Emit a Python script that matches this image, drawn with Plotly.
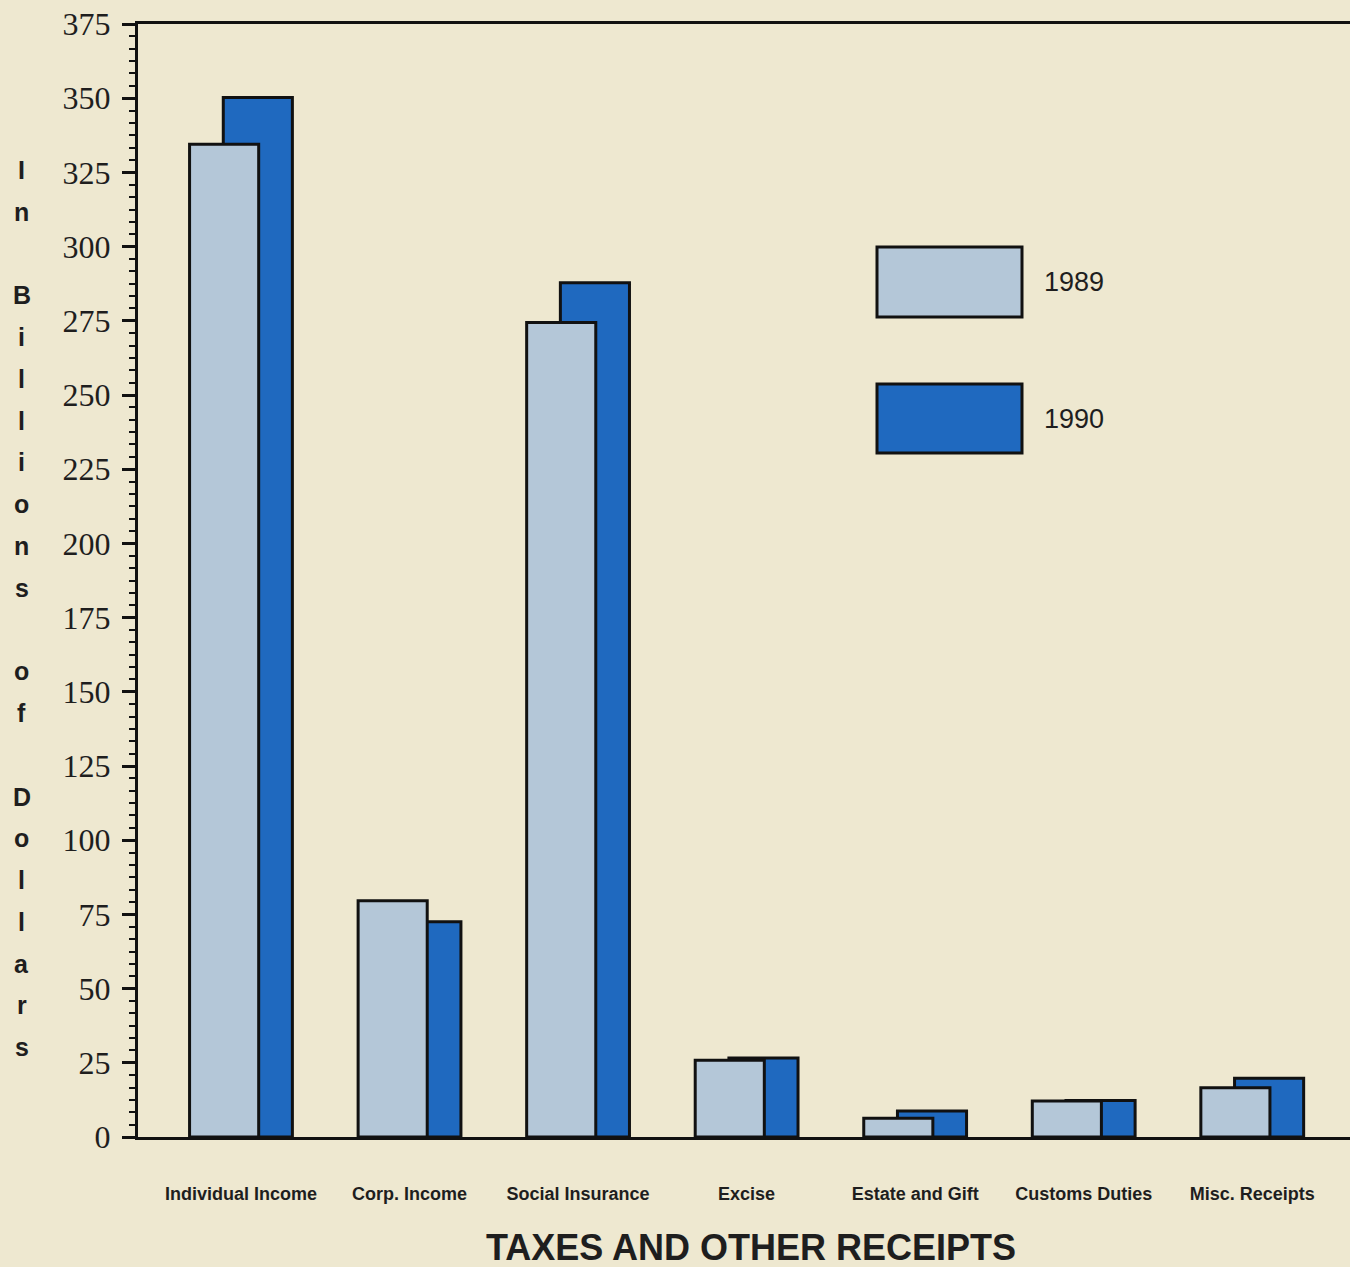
import plotly.graph_objects as go

categories = ["Individual Income", "Corp. Income", "Social Insurance", "Excise",
              "Estate and Gift", "Customs Duties", "Misc. Receipts"]
values_1989 = [334.5, 79.6, 274.4, 25.9, 6.3, 12.1, 16.6]
values_1990 = [350.2, 72.5, 287.8, 26.6, 8.8, 12.3, 19.8]
series_names = ["1989", "1990"]
y_ticks = list(range(0, 376, 25))
y_title = "In Billions of Dollars"
x_title = "TAXES AND OTHER RECEIPTS"

BG = "#eee8d0"
C89 = "#b4c7d8"
C90 = "#1f69bf"
INK = "#1e1e1e"

W, H = 1350, 1267
L, R, T, B = 138, 0, 24, 130
PW, PH = W - L - R, H - T - B

x_idx = list(range(len(categories)))

fig = go.Figure()
# 1990 drawn first (behind), 1989 in front
fig.add_trace(go.Bar(x=x_idx, y=values_1990, name=series_names[1],
                     width=0.41, offset=-0.105,
                     marker=dict(color=C90, line=dict(color="#111111", width=3))))
fig.add_trace(go.Bar(x=x_idx, y=values_1989, name=series_names[0],
                     width=0.41, offset=-0.305,
                     marker=dict(color=C89, line=dict(color="#111111", width=3))))

def px_to_paper_x(px):
    return (px - L) / PW

def px_to_paper_y(py):
    return (H - B - py) / PH

shapes = []
annotations = []
# Legend boxes
for name, col, (top, bot) in [(series_names[0], C89, (247, 317)), (series_names[1], C90, (384, 453))]:
    shapes.append(dict(type="rect", xref="paper", yref="paper",
                       x0=px_to_paper_x(877), x1=px_to_paper_x(1022),
                       y0=px_to_paper_y(bot), y1=px_to_paper_y(top),
                       fillcolor=col, line=dict(color="#111111", width=3)))
    annotations.append(dict(text=name, xref="paper", yref="paper",
                            x=px_to_paper_x(1042), y=px_to_paper_y((top + bot) / 2),
                            xanchor="left", yanchor="middle", showarrow=False,
                            font=dict(family="Liberation Sans, Arial, sans-serif", size=27, color=INK)))

# Vertical stacked y-axis title
for i, ch in enumerate(y_title):
    if ch == " ":
        continue
    annotations.append(dict(text=ch, xref="paper", yref="paper",
                            x=px_to_paper_x(22), y=px_to_paper_y(170 + i * 41.77),
                            xanchor="center", yanchor="middle", showarrow=False,
                            font=dict(family="Liberation Sans, Arial, sans-serif", size=25,
                                      color=INK, weight="bold")))

annotations.append(dict(text=x_title, xref="paper", yref="paper",
                        x=px_to_paper_x(751), y=px_to_paper_y(1247),
                        xanchor="center", yanchor="middle", showarrow=False,
                        font=dict(family="Liberation Sans, Arial, sans-serif", size=36,
                                  color=INK, weight="bold")))

fig.update_layout(
    width=W, height=H,
    margin=dict(l=L, r=R, t=T, b=B),
    paper_bgcolor=BG, plot_bgcolor=BG,
    barmode="overlay", showlegend=False,
    shapes=shapes, annotations=annotations,
    xaxis=dict(range=[-0.611, 6.58], tickmode="array", tickvals=x_idx, ticktext=categories,
               showgrid=False, zeroline=False, showline=True, mirror=True,
               linecolor="#111111", linewidth=3, ticks="", ticklabelstandoff=38,
               tickfont=dict(family="Liberation Sans, Arial, sans-serif", size=18,
                             color=INK, weight="bold")),
    yaxis=dict(range=[0, 375], tickmode="array", tickvals=y_ticks,
               showgrid=False, zeroline=False, showline=True,
               linecolor="#111111", linewidth=3,
               ticks="outside", ticklen=13, tickwidth=3, tickcolor="#111111",
               ticklabelstandoff=5,
               minor=dict(dtick=25 / 6, tick0=0, ticks="outside", ticklen=6,
                          tickwidth=2, tickcolor="#111111", showgrid=False),
               tickfont=dict(family="Liberation Serif, Times New Roman, serif", size=32, color=INK)),
)

fig.write_html("out.html", config={"displayModeBar": False},
               post_script="document.body.style.margin='0';document.body.style.padding='0';"
                           "document.body.style.overflow='hidden';"
                           "document.body.style.background='" + BG + "';")
